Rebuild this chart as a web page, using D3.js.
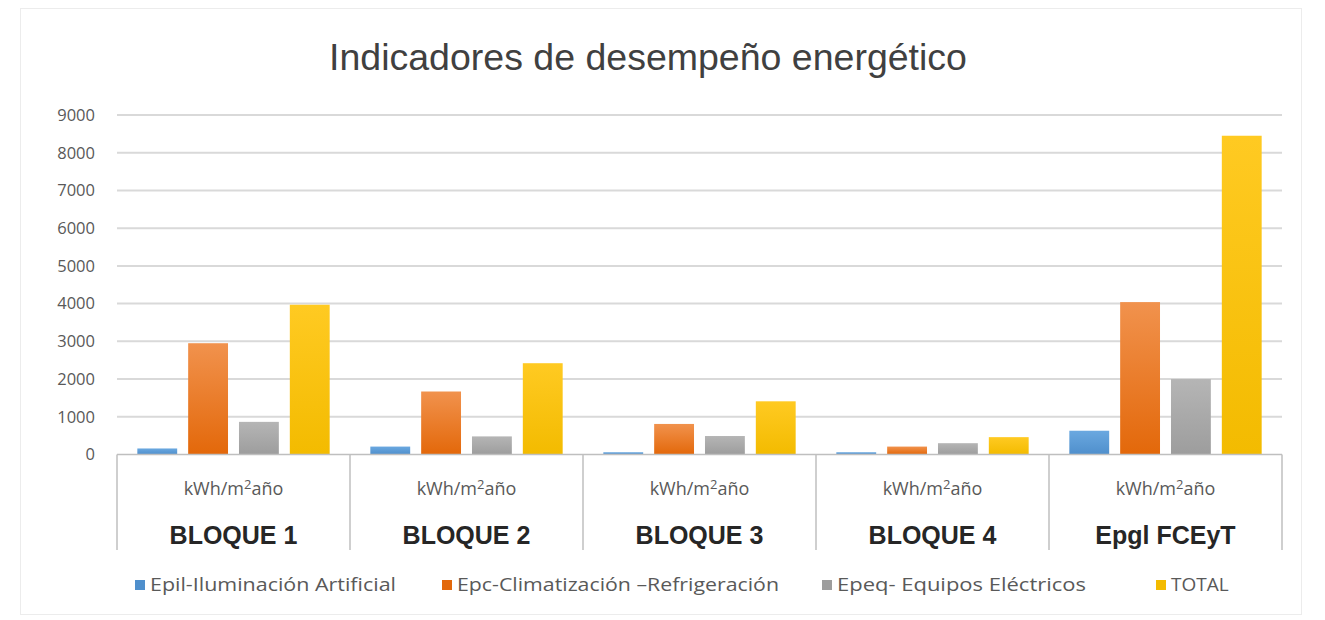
<!DOCTYPE html>
<html>
<head>
<meta charset="utf-8">
<script src="https://cdn.jsdelivr.net/npm/d3@7"></script>
<style>
  body { margin: 0; background: #fff; }
  svg { display: block; }
</style>
</head>
<body>
<div id="chart"></div>
<script>
// Chart data
const categories = ["BLOQUE 1", "BLOQUE 2", "BLOQUE 3", "BLOQUE 4", "Epgl FCEyT"];
const seriesNames = ["Epil-Iluminación Artificial", "Epc-Climatización \u2013Refrigeración", "Epeq- Equipos Eléctricos", "TOTAL"];
const epil = [160, 210, 60, 60, 630];
const epc = [2950, 1670, 810, 210, 4040];
const epeq = [865, 480, 490, 300, 2000];
const total = [3970, 2420, 1410, 460, 8450];
const yTicks = [0, 1000, 2000, 3000, 4000, 5000, 6000, 7000, 8000, 9000];
const unitLabel = "kWh/m";

const seriesValues = [epil, epc, epeq, total];
const colors = [["#6aa8e0", "#4f8fcc"], ["#f1924d", "#e3680a"], ["#b5b5b5", "#9d9d9d"], ["#ffca22", "#f3bb00"]];

const W = 1325, H = 620;
const margin = {top: 115, right: 43, bottom: 165, left: 117};

const svg = d3.select("#chart").append("svg")
    .attr("width", W)
    .attr("height", H);

// faint outer frame
svg.append("rect")
    .attr("x", 20.5).attr("y", 8.5)
    .attr("width", 1281).attr("height", 606)
    .attr("fill", "#fff")
    .attr("stroke", "#ececec");

const defs = svg.append("defs");
colors.forEach((c, i) => {
    const g = defs.append("linearGradient")
        .attr("id", "grad" + i)
        .attr("x1", 0).attr("y1", 0).attr("x2", 0).attr("y2", 1);
    g.append("stop").attr("offset", "0%").attr("stop-color", c[0]);
    g.append("stop").attr("offset", "100%").attr("stop-color", c[1]);
});

const x0 = d3.scaleBand()
    .domain(categories)
    .range([margin.left, W - margin.right]);

const x1 = d3.scaleBand()
    .domain(d3.range(seriesNames.length))
    .range([0, x0.bandwidth()])
    .paddingInner(0.216)
    .paddingOuter(0.4);

const y = d3.scaleLinear()
    .domain([0, 9000])
    .range([454.5, margin.top]);

// title
svg.append("text")
    .attr("x", 648)
    .attr("y", 70)
    .attr("text-anchor", "middle")
    .attr("font-family", "Liberation Sans, Arial, sans-serif")
    .attr("font-size", 37.5)
    .attr("fill", "#404040")
    .text("Indicadores de desempeño energético");

// gridlines
svg.append("g")
    .selectAll("line")
    .data(yTicks.filter(d => d > 0))
    .enter().append("line")
        .attr("x1", margin.left)
        .attr("x2", W - margin.right)
        .attr("y1", d => y(d))
        .attr("y2", d => y(d))
        .attr("stroke", "#d9d9d9")
        .attr("stroke-width", 2);

// y axis labels
const yAxis = svg.append("g")
    .attr("transform", `translate(${margin.left - 22},0)`)
    .call(d3.axisLeft(y).tickValues(yTicks).tickSize(0).tickPadding(0).tickFormat(d3.format("d")));
yAxis.select(".domain").remove();
yAxis.selectAll("text")
    .attr("font-family", "Open Sans, Liberation Sans, sans-serif")
    .attr("font-size", 16.5)
    .attr("fill", "#595959");

// bars
const groups = svg.append("g")
    .selectAll("g")
    .data(categories)
    .enter().append("g")
        .attr("transform", d => `translate(${x0(d)},0)`);

groups.selectAll("rect")
    .data((d, ci) => seriesValues.map((vals, si) => ({si: si, v: vals[ci]})))
    .enter().append("rect")
        .attr("x", d => x1(d.si))
        .attr("y", d => y(d.v))
        .attr("width", x1.bandwidth())
        .attr("height", d => y(0) - y(d.v))
        .attr("fill", d => `url(#grad${d.si})`);

// x axis line
svg.append("line")
    .attr("x1", margin.left).attr("x2", W - margin.right)
    .attr("y1", y(0)).attr("y2", y(0))
    .attr("stroke", "#bfbfbf")
    .attr("stroke-width", 1.5);

// category dividers
const dividers = categories.map(c => x0(c)).concat([W - margin.right]);
svg.append("g")
    .selectAll("line")
    .data(dividers)
    .enter().append("line")
        .attr("x1", d => d).attr("x2", d => d)
        .attr("y1", y(0)).attr("y2", 550)
        .attr("stroke", "#bfbfbf")
        .attr("stroke-width", 1.5);

// unit labels
const units = svg.append("g")
    .selectAll("text")
    .data(categories)
    .enter().append("text")
        .attr("x", d => x0(d) + x0.bandwidth() / 2)
        .attr("y", 495)
        .attr("text-anchor", "middle")
        .attr("font-family", "Open Sans, Liberation Sans, sans-serif")
        .attr("font-size", 18)
        .attr("fill", "#595959");
units.append("tspan").text(unitLabel);
units.append("tspan").attr("dy", -6).attr("font-size", 13).text("2");
units.append("tspan").attr("dy", 6).text("año");

// category labels
svg.append("g")
    .selectAll("text")
    .data(categories)
    .enter().append("text")
        .attr("x", d => x0(d) + x0.bandwidth() / 2)
        .attr("y", 544)
        .attr("text-anchor", "middle")
        .attr("font-family", "Liberation Sans, Arial, sans-serif")
        .attr("font-weight", "bold")
        .attr("font-size", 25)
        .attr("fill", "#262626")
        .text(d => d);

// legend
const legendX = [135, 442, 822, 1156];
const legendW = [246, 322, 249, null];
const legend = svg.append("g")
    .selectAll("g")
    .data(seriesNames)
    .enter().append("g")
        .attr("transform", (d, i) => `translate(${legendX[i]},591)`);
legend.append("rect")
    .attr("x", 0).attr("y", -11)
    .attr("width", 10).attr("height", 10)
    .attr("fill", (d, i) => colors[i][1]);
legend.append("text")
    .attr("x", 15)
    .attr("y", 0)
    .attr("font-family", "Open Sans, Liberation Sans, sans-serif")
    .attr("font-size", 19)
    .attr("textLength", (d, i) => legendW[i])
    .attr("lengthAdjust", (d, i) => legendW[i] ? "spacingAndGlyphs" : null)
    .attr("fill", "#595959")
    .text(d => d);
</script>
</body>
</html>
